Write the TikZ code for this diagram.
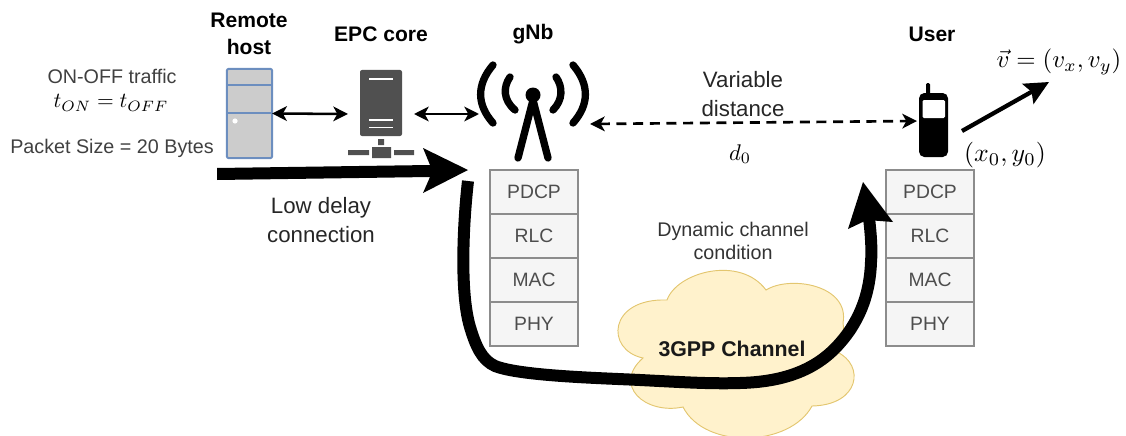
\documentclass[tikz,border=0pt]{standalone}
\usepackage{graphicx}
\usepackage{fontspec}
\setmainfont{Liberation Sans}
\usetikzlibrary{arrows.meta,calc}
\definecolor{boxfill}{HTML}{F5F5F5}
\definecolor{boxline}{HTML}{8C8C8C}
\definecolor{boxtext}{HTML}{4D4D4D}
\definecolor{hostfill}{HTML}{CCCCCC}
\definecolor{hostline}{HTML}{6C8EBF}
\definecolor{srv}{HTML}{505050}
\definecolor{cloudfill}{HTML}{FFF2CC}
\definecolor{cloudline}{HTML}{E3C66F}
\newcommand{\fs}[1]{\fontsize{#1}{#1}\selectfont}
\tikzset{
  x=0.75pt,y=-0.75pt,
  every node/.style={inner sep=0pt,outer sep=0pt},
  layerbox/.style={draw=boxline,fill=boxfill,line width=0.9pt,minimum width=66pt,minimum height=33pt,text=boxtext,font=\fs{14.5}},
  title/.style={font=\bfseries\fs{15.8},align=center},
  dhead/.style={{Stealth[length=11pt,width=11pt,inset=3pt]}-{Stealth[length=11pt,width=11pt,inset=3pt]}},
  link/.style={line width=1.9pt,dhead},
  plain/.style={font=\fs{14.8},text=black!75,align=center},
  mid/.style={font=\fs{16.7},text=black!85,align=center},
  wave/.style={line width=5.5pt,line cap=round},
  leg/.style={line width=5.5pt,line cap=round},
}
\begin{document}
\begin{tikzpicture}
\useasboundingbox (0,0) rectangle (1126,435);
% cloud
\draw[fill=cloudfill,draw=cloudline,line width=0.7pt]
 (667,300) .. controls (677,272) and (740,255) .. (766,290)
 .. controls (790,275) and (850,285) .. (843,323)
 .. controls (845,335) and (842,345) .. (837,352)
 .. controls (865,365) and (860,405) .. (812,406)
 .. controls (790,447) and (705,450) .. (683,407)
 .. controls (645,415) and (612,385) .. (643,358)
 .. controls (605,350) and (608,298) .. (667,300) -- cycle;
\node[font=\bfseries\fs{16},text=black!90] (cloudlabel) at (732,349) {3GPP Channel};
% stacks
\foreach \n/\t/\y in {a/PDCP/192,b/RLC/236,c/MAC/280,d/PHY/324}{
  \node[layerbox] (g\n) at (534,\y) {\t};
  \node[layerbox] (u\n) at (930,\y) {\t};
}
% remote host
\node[minimum width=34pt,minimum height=67pt,draw=hostline,fill=hostfill,rounded corners=1.5pt,line width=1.5pt] (host) at (249.5,113.5) {};
\draw[hostline,line width=1.5pt] (227,85) -- (272,85) (227,113) -- (272,113);
\fill[white] (235,121) circle (2.6);
% EPC
\node[minimum width=49.5pt,minimum height=66pt] (epc) at (381,114) {};
\fill[srv,rounded corners=1.5pt] (360,70) rectangle (402,136);
\draw[white,line width=1.1pt] (369,79) -- (393,79) (369,120) -- (393,120) (369,127.5) -- (393,127.5);
\fill[srv] (378,139) rectangle (384,145) (372,147) rectangle (391,158) (348,150) rectangle (369,155) (394,150) rectangle (414,155);
% antenna
\node[minimum width=81pt,minimum height=78pt] (gnb) at (533,114) {};
\fill (533,95) circle (7.5);
\draw[leg] (533,100) -- (518,158) (533,100) -- (548,158);
\draw[wave] (510,77) .. controls (503,87) and (503,100) .. (515,110);
\draw[wave] (556,77) .. controls (563,87) and (563,100) .. (553,110);
\draw[wave] (493,65) .. controls (476,85) and (477,105) .. (493,123);
\draw[wave] (573,65) .. controls (590,85) and (589,105) .. (573,123);
% phone
\node[minimum width=22pt,minimum height=48pt] (phone) at (933.5,125) {};
\fill[rounded corners=4pt] (919,93) rectangle (948,157);
\fill[rounded corners=1pt] (926,83) rectangle (930,95);
\fill[white,rounded corners=1pt] (922.5,100) rectangle (945,118);
% titles
\node[title] (ttl1) at (249,34) {Remote\\[4pt]host};
\node[title] (ttl2) at (381,34) {EPC core};
\node[title] (ttl3) at (533,34) {gNb};
\node[title] (ttl4) at (932,34) {User};
% left labels
\node[plain] (onoff) at (112,76) {ON-OFF traffic};
\node (tt) at (111,103) {\scalebox{1.61}{$t_{ON}=t_{OFF}$}};
\node[plain] (pkt) at (112,148) {Packet Size = 20 Bytes};
\node[mid] (low) at (321,220) {Low delay\\[5pt]connection};
\node[mid] (vd) at (743,94) {Variable\\[5pt]distance};
\node (d0) at (740,154) {\scalebox{1.7}{$d_0$}};
\node[font=\fs{14.8},text=black!80,align=center] (dyn) at (733,241) {Dynamic channel\\[3pt]condition};
\node (xy) at (1005,155) {\scalebox{1.93}{$(x_0,y_0)$}};
\node (vv) at (1059,62) {\scalebox{1.86}{$\vec{v}=(v_x,v_y)$}};
% connectors
\draw[link] (host.east) -- (epc.west);
\draw[link] (epc.east) -- (gnb.west);
\coordinate (ds) at (590,124);
\coordinate (dd) at (917,121);
\coordinate (vs) at (962,131);
\coordinate (ve) at (1049,82);
\draw[line width=2pt,dash pattern=on 7.5pt off 5pt,dhead] (ds) -- (dd);
\draw[line width=3.2pt,-{Stealth[length=18pt,width=17pt,inset=3pt]}] (vs) -- (ve);
% big arrows
\coordinate (bs) at (217,174);
\coordinate (be) at (468,170);
\fill (bs) ++(0,-6) -- (430,165) -- (423,148) -- (be) -- (423,193) -- (430,177) -- (217,180) -- cycle;
\draw[line width=9pt] (468,181) .. controls (464,215) and (459,290) .. (470,327)
 .. controls (476,347) and (482,360) .. (495,366)
 .. controls (520,376) and (600,378) .. (640,380)
 .. controls (680,382) and (710,384) .. (740,383)
 .. controls (780,382) and (815,372) .. (840,343)
 .. controls (862,318) and (870,290) .. (871,262)
 .. controls (872,250) and (871,235) .. (869,218);
\fill (863,182) -- (893,222) -- (867,220) -- (848,229) -- cycle;
\end{tikzpicture}
\end{document}
